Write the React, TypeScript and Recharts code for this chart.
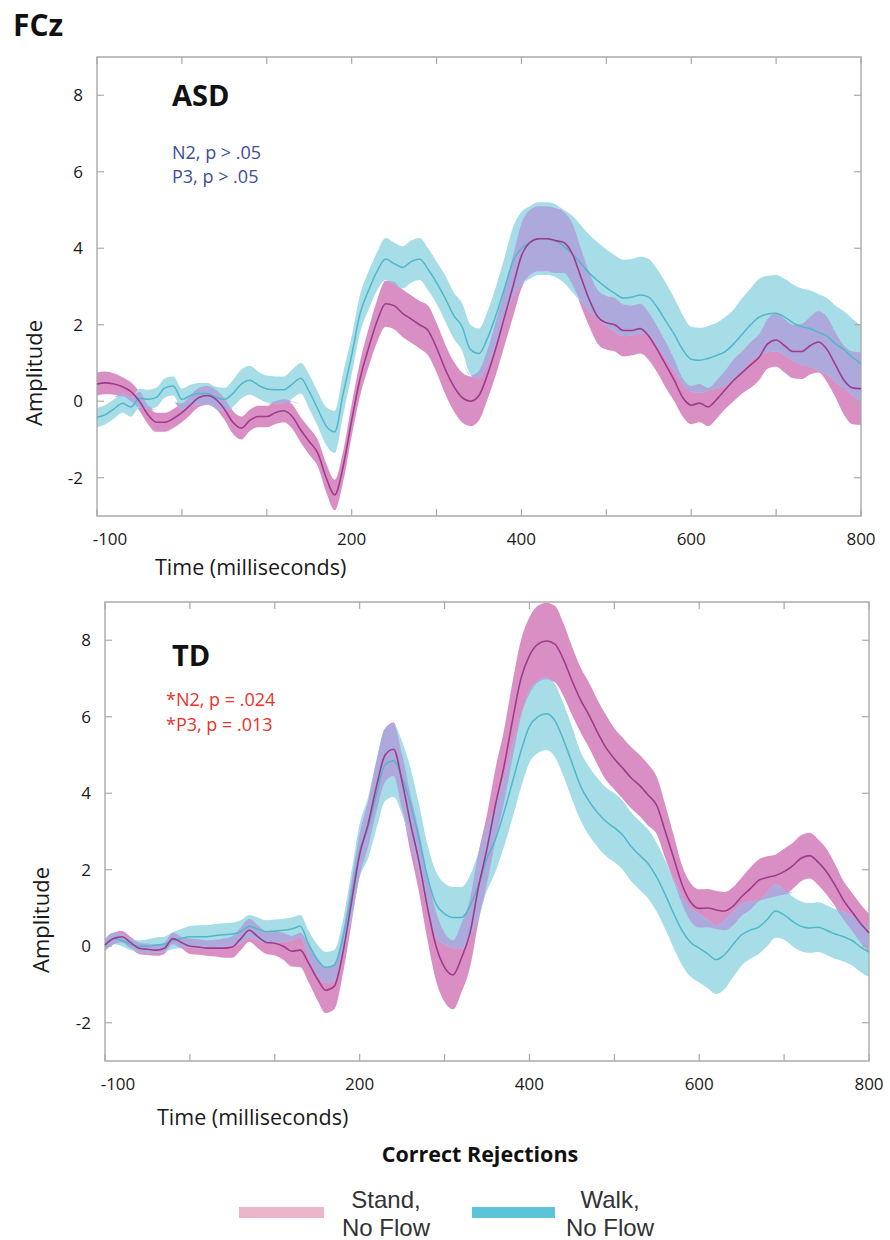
import React from "react";
import { ComposedChart, Area, Line, XAxis, YAxis, ReferenceArea } from "recharts";

// time in ms
const times = [
  -100, -90, -80, -70, -60, -50, -40, -30, -20, -10,
  0, 10, 20, 30, 40, 50, 60, 70, 80, 90,
  100, 110, 120, 130, 140, 150, 160, 170, 180, 190,
  200, 210, 220, 230, 240, 250, 260, 270, 280, 290,
  300, 310, 320, 330, 340, 350, 360, 370, 380, 390,
  400, 410, 420, 430, 440, 450, 460, 470, 480, 490,
  500, 510, 520, 530, 540, 550, 560, 570, 580, 590,
  600, 610, 620, 630, 640, 650, 660, 670, 680, 690,
  700, 710, 720, 730, 740, 750, 760, 770, 780, 790,
  800,
];

// ASD, Stand No Flow
const asdStandMean = [
  0.45, 0.48, 0.45, 0.38, 0.25, 0.0, -0.35, -0.55, -0.55, -0.45,
  -0.3, -0.1, 0.1, 0.15, 0.05, -0.2, -0.55, -0.7, -0.5, -0.4,
  -0.4, -0.3, -0.25, -0.4, -0.75, -1.05, -1.35, -2.0, -2.45, -1.7,
  -0.5, 0.6, 1.4, 2.1, 2.55, 2.5, 2.3, 2.15, 2.0, 1.85,
  1.4, 0.85, 0.4, 0.1, 0.0, 0.15, 0.7, 1.4, 2.2, 3.0,
  3.8, 4.15, 4.25, 4.25, 4.2, 4.15, 3.85, 3.25, 2.65, 2.2,
  2.05, 2.0, 1.85, 1.85, 1.9, 1.7, 1.35, 0.95, 0.55, 0.1,
  -0.1, -0.05, -0.15, 0.05, 0.3, 0.55, 0.75, 0.95, 1.15, 1.5,
  1.6, 1.45, 1.3, 1.3, 1.45, 1.55, 1.35, 0.95, 0.55, 0.35,
  0.33,
];
const asdStandErr = [
  0.3, 0.3, 0.28, 0.25, 0.25, 0.25, 0.25, 0.25, 0.25, 0.25,
  0.25, 0.25, 0.25, 0.25, 0.25, 0.28, 0.3, 0.3, 0.28, 0.28,
  0.28, 0.3, 0.3, 0.32, 0.33, 0.35, 0.35, 0.38, 0.4, 0.4,
  0.42, 0.45, 0.5, 0.55, 0.6, 0.62, 0.62, 0.62, 0.62, 0.65,
  0.65, 0.65, 0.65, 0.65, 0.65, 0.65, 0.65, 0.7, 0.75, 0.8,
  0.85, 0.85, 0.85, 0.85, 0.85, 0.8, 0.8, 0.75, 0.7, 0.7,
  0.7, 0.7, 0.68, 0.65, 0.65, 0.62, 0.6, 0.6, 0.55, 0.5,
  0.5, 0.5, 0.5, 0.5, 0.5, 0.55, 0.55, 0.6, 0.6, 0.65,
  0.7, 0.7, 0.7, 0.72, 0.75, 0.8, 0.85, 0.85, 0.9, 0.95,
  0.95,
];

// ASD, Walk No Flow
const asdWalkMean = [
  -0.42, -0.35, -0.2, -0.05, -0.15, 0.08, 0.05, 0.1, 0.35, 0.4,
  0.05, 0.15, 0.2, 0.2, 0.1, 0.05, 0.2, 0.45, 0.55, 0.42,
  0.32, 0.3, 0.3, 0.45, 0.6, 0.25, -0.2, -0.65, -0.8, 0.2,
  1.2, 2.3, 2.9, 3.4, 3.72, 3.6, 3.5, 3.65, 3.72, 3.45,
  3.1, 2.7, 2.25, 1.95, 1.35, 1.25, 1.65, 2.25, 2.95, 3.65,
  4.0, 4.15, 4.25, 4.25, 4.2, 4.05, 3.85, 3.6, 3.35, 3.15,
  2.97, 2.82, 2.7, 2.72, 2.78, 2.72, 2.45, 2.1, 1.75, 1.35,
  1.1, 1.07, 1.12, 1.2, 1.3, 1.5, 1.75, 2.0, 2.2, 2.28,
  2.3, 2.2, 2.05, 1.95, 1.9, 1.8, 1.7, 1.5, 1.35, 1.15,
  0.98,
];
const asdWalkErr = [
  0.25, 0.25, 0.25, 0.25, 0.25, 0.25, 0.25, 0.25, 0.25, 0.25,
  0.28, 0.28, 0.28, 0.28, 0.28, 0.3, 0.35, 0.38, 0.38, 0.35,
  0.35, 0.35, 0.35, 0.38, 0.4, 0.45, 0.45, 0.5, 0.55, 0.55,
  0.5, 0.5, 0.5, 0.5, 0.55, 0.55, 0.55, 0.55, 0.55, 0.55,
  0.55, 0.6, 0.6, 0.62, 0.65, 0.65, 0.7, 0.75, 0.8, 0.9,
  0.95, 0.95, 0.95, 0.95, 0.95, 0.95, 1.0, 1.0, 1.0, 1.0,
  1.0, 1.0, 1.0, 1.0, 1.0, 1.0, 1.0, 1.0, 0.95, 0.9,
  0.85, 0.85, 0.85, 0.85, 0.9, 0.9, 0.95, 0.95, 1.0, 1.0,
  1.0, 1.0, 1.0, 1.0, 1.0, 1.0, 1.0, 1.0, 1.0, 1.0,
  1.0,
];

// TD, Stand No Flow
const tdStandMean = [
  0.03, 0.2, 0.25, 0.1, -0.05, -0.08, -0.1, -0.05, 0.2, 0.1,
  0.0, -0.02, -0.05, -0.05, -0.05, -0.02, 0.2, 0.42, 0.25, 0.1,
  0.08, 0.0, -0.13, -0.1, -0.45, -0.85, -1.15, -1.05, -0.2, 1.1,
  2.4, 3.2, 4.2, 5.0, 5.15, 4.3, 3.2, 2.2, 1.0, 0.0,
  -0.55, -0.75, -0.3, 0.35, 1.55, 2.55, 3.7, 4.7, 5.9, 7.0,
  7.6, 7.9, 7.98, 7.9, 7.5, 6.95, 6.45, 6.05, 5.6, 5.2,
  4.9, 4.65, 4.4, 4.2, 3.95, 3.68, 3.0, 2.3, 1.6, 1.15,
  0.99, 1.0, 0.95, 0.92, 1.05, 1.3, 1.5, 1.72, 1.8, 1.85,
  1.95, 2.1, 2.3, 2.37, 2.2, 1.95, 1.6, 1.2, 0.9, 0.6,
  0.35,
];
const tdStandErr = [
  0.15, 0.15, 0.15, 0.15, 0.15, 0.15, 0.15, 0.15, 0.15, 0.15,
  0.2, 0.2, 0.2, 0.22, 0.25, 0.28, 0.3, 0.3, 0.3, 0.3,
  0.32, 0.35, 0.4, 0.45, 0.5, 0.55, 0.6, 0.6, 0.55, 0.55,
  0.55, 0.6, 0.65, 0.7, 0.7, 0.72, 0.75, 0.8, 0.85, 0.9,
  0.9, 0.9, 0.9, 0.9, 0.9, 0.9, 0.95, 0.95, 1.0, 1.0,
  1.0, 1.0, 1.0, 1.0, 0.95, 0.9, 0.85, 0.85, 0.85, 0.85,
  0.8, 0.8, 0.8, 0.8, 0.8, 0.75, 0.7, 0.6, 0.5, 0.5,
  0.5, 0.5, 0.5, 0.5, 0.5, 0.5, 0.55, 0.55, 0.55, 0.55,
  0.6, 0.6, 0.6, 0.6, 0.6, 0.6, 0.55, 0.5, 0.5, 0.5,
  0.5,
];

// TD, Walk No Flow
const tdWalkMean = [
  0.03, 0.2, 0.15, 0.05, 0.0, 0.0, 0.03, 0.05, 0.15, 0.2,
  0.25, 0.25, 0.25, 0.28, 0.3, 0.32, 0.38, 0.52, 0.45, 0.38,
  0.4, 0.42, 0.45, 0.52, 0.05, -0.35, -0.55, -0.5, 0.2, 1.3,
  2.5, 3.1, 4.0, 4.75, 4.85, 4.4, 3.7, 2.8, 1.8, 1.1,
  0.85, 0.75, 0.75, 1.05, 1.6, 2.3, 2.8, 3.5, 4.3, 5.1,
  5.75, 6.0, 6.08, 5.9, 5.4, 4.8, 4.2, 3.8, 3.5, 3.26,
  3.1, 2.9, 2.6, 2.37, 2.15, 1.8, 1.35, 0.85, 0.4, 0.1,
  -0.05, -0.2, -0.35, -0.22, 0.05, 0.3, 0.42, 0.5, 0.7, 0.92,
  0.82, 0.65, 0.52, 0.48, 0.5, 0.42, 0.32, 0.25, 0.15, -0.02,
  -0.15,
];
const tdWalkErr = [
  0.15, 0.15, 0.15, 0.15, 0.15, 0.18, 0.2, 0.2, 0.22, 0.25,
  0.28, 0.3, 0.3, 0.3, 0.3, 0.3, 0.3, 0.3, 0.3, 0.3,
  0.3, 0.3, 0.3, 0.3, 0.35, 0.4, 0.4, 0.4, 0.45, 0.6,
  0.7, 0.8, 0.9, 0.95, 0.95, 0.95, 0.95, 0.9, 0.85, 0.85,
  0.8, 0.8, 0.8, 0.8, 0.85, 0.85, 0.85, 0.9, 0.95, 0.95,
  0.95, 0.95, 0.95, 0.95, 0.95, 0.95, 0.9, 0.9, 0.9, 0.9,
  0.9, 0.9, 0.9, 0.9, 0.9, 0.9, 0.9, 0.9, 0.9, 0.9,
  0.9, 0.9, 0.9, 0.9, 0.85, 0.8, 0.75, 0.7, 0.7, 0.7,
  0.65, 0.65, 0.65, 0.65, 0.65, 0.65, 0.65, 0.65, 0.65, 0.65,
  0.65,
];

const xTicks = [-100, 0, 100, 200, 300, 400, 500, 600, 700, 800];
const xTickLabels = [-100, 200, 400, 600, 800];
const yTicks = [-2, 0, 2, 4, 6, 8];

const PINK_BAND = "#da8fc4";
const CYAN_BAND = "#a6dde7";
const OVERLAP = "#ada9dc";
const PINK_LINE = "#9e3b8a";
const CYAN_LINE = "#4fb8cb";
const FRAME = "#aaaaaa";
const FONT = "'Open Sans', sans-serif";

function buildRows(sm: number[], se: number[], wm: number[], we: number[]) {
  return times.map((t, i) => ({
    t,
    stand: sm[i],
    walk: wm[i],
    sLo: sm[i] - se[i],
    sHi: sm[i] + se[i],
    wLo: wm[i] - we[i],
    wHi: wm[i] + we[i],
  }));
}

// where the two bands overlap, drawn lavender
const overlapKey = (d: any) => {
  const lo = Math.max(d.sLo, d.wLo);
  const hi = Math.min(d.sHi, d.wHi);
  if (lo < hi) return [lo, hi];
  const m = (lo + hi) / 2;
  return [m, m];
};

interface PanelProps {
  rows: any[];
  yw: number;
  right: number;
}

const W = 890;
const H = 560;
const TOP = 57;
const XH = 30;

function Panel({ rows, yw, right }: PanelProps) {
  const bottom = 14;
  const pl = yw;
  const pr = W - right;
  const pt = TOP;
  const pb = H - bottom - XH;

  const XTick = (p: any) => {
    const v = p.payload.value;
    const x = p.x;
    const show = xTickLabels.includes(v);
    return (
      <g>
        <line x1={x} x2={x} y1={pb} y2={pb - 7} stroke={FRAME} strokeWidth={1.2} />
        <line x1={x} x2={x} y1={pt} y2={pt + 7} stroke={FRAME} strokeWidth={1.2} />
        {show && (
          <text
            x={v === -100 ? x + 13 : x}
            y={pb + 29}
            textAnchor="middle"
            fontFamily={FONT}
            fontSize={17}
            fill="#1a1a1a"
          >
            {v}
          </text>
        )}
      </g>
    );
  };

  const YTick = (p: any) => {
    const v = p.payload.value;
    const y = p.y;
    return (
      <g>
        <line x1={pl} x2={pl + 7} y1={y} y2={y} stroke={FRAME} strokeWidth={1.2} />
        <line x1={pr - 7} x2={pr} y1={y} y2={y} stroke={FRAME} strokeWidth={1.2} />
        <text x={pl - 14} y={y + 6} textAnchor="end" fontFamily={FONT} fontSize={17} fill="#1a1a1a">
          {v}
        </text>
      </g>
    );
  };

  return (
    <ComposedChart width={W} height={H} data={rows} margin={{ top: TOP, right, bottom, left: 0 }}>
      <XAxis
        dataKey="t"
        type="number"
        domain={[-100, 800]}
        ticks={xTicks}
        height={XH}
        axisLine={false}
        tickLine={false}
        tick={XTick}
        interval={0}
      />
      <YAxis
        type="number"
        domain={[-3, 9]}
        ticks={yTicks}
        width={yw}
        axisLine={false}
        tickLine={false}
        tick={YTick}
        interval={0}
      />
      <Area
        type="monotone"
        dataKey={(d: any) => [d.sLo, d.sHi]}
        fill={PINK_BAND}
        fillOpacity={1}
        stroke="none"
        isAnimationActive={false}
      />
      <Area
        type="monotone"
        dataKey={(d: any) => [d.wLo, d.wHi]}
        fill={CYAN_BAND}
        fillOpacity={1}
        stroke="none"
        isAnimationActive={false}
      />
      <Area
        type="monotone"
        dataKey={overlapKey}
        fill={OVERLAP}
        fillOpacity={1}
        stroke="none"
        isAnimationActive={false}
      />
      <Line
        type="monotone"
        dataKey="walk"
        stroke={CYAN_LINE}
        strokeWidth={1.5}
        dot={false}
        isAnimationActive={false}
      />
      <Line
        type="monotone"
        dataKey="stand"
        stroke={PINK_LINE}
        strokeWidth={1.6}
        dot={false}
        isAnimationActive={false}
      />
      <ReferenceArea x1={-100} x2={800} y1={-3} y2={9} fill="none" stroke={FRAME} strokeWidth={1.4} />
    </ComposedChart>
  );
}

const abs = (left: number, top: number, extra: React.CSSProperties = {}): React.CSSProperties => ({
  position: "absolute",
  left,
  top,
  lineHeight: 1,
  whiteSpace: "nowrap",
  fontFamily: FONT,
  ...extra,
});

const legendText: React.CSSProperties = {
  position: "absolute",
  top: 1186,
  width: 130,
  textAlign: "center",
  fontFamily: "'Liberation Sans', Arial, sans-serif",
  fontSize: 24,
  lineHeight: "28px",
  color: "#333",
};

export default function App() {
  const asdRows = buildRows(asdStandMean, asdStandErr, asdWalkMean, asdWalkErr);
  const tdRows = buildRows(tdStandMean, tdStandErr, tdWalkMean, tdWalkErr);

  return (
    <div style={{ position: "absolute", left: 0, top: 0, width: 890, height: 1240, background: "#fff" }}>
      <div style={{ position: "absolute", left: 0, top: 0 }}>
        <Panel rows={asdRows} yw={97} right={29} />
      </div>
      <div style={{ position: "absolute", left: 0, top: 545 }}>
        <Panel rows={tdRows} yw={105} right={21} />
      </div>

      <div style={abs(13, 10, { fontSize: 30, fontWeight: 700, color: "#111" })}>FCz</div>

      <div style={abs(172, 80, { fontSize: 29, fontWeight: 700, color: "#111" })}>ASD</div>
      <div style={abs(172, 143, { fontSize: 18, color: "#3d4d9c" })}>N2, p &gt; .05</div>
      <div style={abs(172, 167, { fontSize: 18, color: "#3d4d9c" })}>P3, p &gt; .05</div>

      <div style={abs(172, 640, { fontSize: 29, fontWeight: 700, color: "#111" })}>TD</div>
      <div style={abs(166, 690, { fontSize: 18, color: "#e8342a" })}>*N2, p = .024</div>
      <div style={abs(166, 715, { fontSize: 18, color: "#e8342a" })}>*P3, p = .013</div>

      <div style={abs(33, 373, { fontSize: 22, color: "#1a1a1a", transform: "translate(-50%, -50%) rotate(-90deg)" })}>
        Amplitude
      </div>
      <div style={abs(40, 920, { fontSize: 22, color: "#1a1a1a", transform: "translate(-50%, -50%) rotate(-90deg)" })}>
        Amplitude
      </div>

      <div style={abs(155, 556, { fontSize: 21.5, color: "#1a1a1a" })}>Time (milliseconds)</div>
      <div style={abs(157, 1106, { fontSize: 21.5, color: "#1a1a1a" })}>Time (milliseconds)</div>

      <div style={abs(370, 1143, { fontSize: 21.5, fontWeight: 700, color: "#111", width: 220, textAlign: "center" })}>
        Correct Rejections
      </div>

      <div style={{ position: "absolute", left: 239, top: 1207, width: 85, height: 11, background: "#eab6cb" }} />
      <div style={{ position: "absolute", left: 472, top: 1207, width: 83, height: 11, background: "#5bc4d8" }} />
      <div style={{ ...legendText, left: 321 }}>
        Stand,
        <br />
        No Flow
      </div>
      <div style={{ ...legendText, left: 545 }}>
        Walk,
        <br />
        No Flow
      </div>
    </div>
  );
}
